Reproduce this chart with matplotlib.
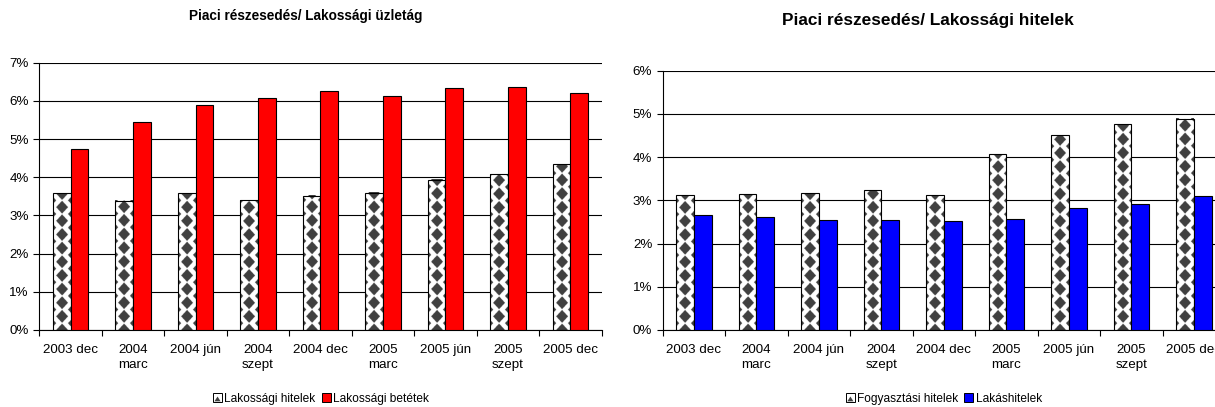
import numpy as np
import matplotlib
matplotlib.use('Agg')
from matplotlib import pyplot as plt
from matplotlib.patches import Rectangle, Polygon
from matplotlib.legend_handler import HandlerBase

plt.rcParams['font.family'] = ['Liberation Sans', 'DejaVu Sans']

months = ['2003 dec', '2004\nmarc', '2004 jún', '2004\nszept', '2004 dec',
          '2005\nmarc', '2005 jún', '2005\nszept', '2005 dec']
lak_hitelek = [3.58, 3.38, 3.58, 3.40, 3.51, 3.60, 3.94, 4.08, 4.34]
lak_betetek = [4.73, 5.44, 5.90, 6.08, 6.27, 6.13, 6.34, 6.36, 6.20]
fogy_hitelek = [3.12, 3.14, 3.17, 3.23, 3.12, 4.07, 4.51, 4.76, 4.89]
lakashitelek = [2.65, 2.61, 2.55, 2.54, 2.52, 2.56, 2.82, 2.91, 3.09]

W = 1215
H = 407
fig = plt.figure(figsize=(W / 100, H / 100), dpi=100)
fig.patch.set_facecolor('white')

BW = 0.283
DARK = '#404040'


def diamond_img(w_px, h_px):
    # white bar with dark diamond pattern (like the excel fill)
    nx = max(int(w_px * 4), 2)
    ny = max(int(h_px * 4), 2)
    u = (np.arange(nx) + 0.5) / 4 - w_px / 2
    v = (np.arange(ny) + 0.5) / 4
    U, V = np.meshgrid(u, v)
    py = 13.6
    a, b = 5.8, 6.4
    dv = (V + py / 2) % py - py / 2
    m1 = np.abs(U) / a + np.abs(dv) / b < 1
    dv2 = V % py - py / 2
    m2 = (np.abs(np.abs(U) - 11.5) / a + np.abs(dv2) / b) < 1
    m = m1 | m2
    img = np.ones((ny, nx, 3))
    img[m] = 0x40 / 255
    return img


def chart(ax, a_vals, b_vals, b_color, ymax):
    x = np.arange(len(months))
    ax.set_xlim(-0.5, len(months) - 0.5)
    ax.set_ylim(0, ymax)
    ax.set_axisbelow(True)
    ax.yaxis.grid(True, color='black', lw=0.8)
    ax.set_yticks(range(ymax + 1))
    ax.set_yticklabels(['%d%%' % t for t in range(ymax + 1)])

    pxx = ax.transData.transform((1, 0))[0] - ax.transData.transform((0, 0))[0]
    pxy = ax.transData.transform((0, 1))[1] - ax.transData.transform((0, 0))[1]
    for xi, v in zip(x, a_vals):
        img = diamond_img(BW * pxx, v * pxy)
        ax.imshow(img, extent=[xi - BW, xi, 0, v], origin='lower',
                  aspect='auto', interpolation='antialiased', zorder=2)
    ax.bar(x - BW / 2, a_vals, BW, facecolor='none', edgecolor='black',
           lw=0.8, zorder=3)
    ax.bar(x + BW / 2, b_vals, BW, color=b_color, edgecolor='black',
           lw=0.8, zorder=3)
    ax.set_xlim(-0.5, len(months) - 0.5)
    ax.set_ylim(0, ymax)

    ax.set_xticks(x)
    ax.set_xticklabels(months, linespacing=1.3)
    ax.set_xticks(np.arange(len(months) + 1) - 0.5, minor=True)
    ax.tick_params(axis='x', which='major', length=0, pad=10, labelsize=9.6)
    ax.tick_params(axis='x', which='minor', length=4, width=0.8, direction='out')
    ax.tick_params(axis='y', length=4, width=0.8, pad=3.5, labelsize=9.6)
    for s in ['top', 'right']:
        ax.spines[s].set_visible(False)
    for s in ['left', 'bottom']:
        ax.spines[s].set_linewidth(0.8)
        ax.spines[s].set_color('black')


class PatternHandler(HandlerBase):
    def create_artists(self, legend, orig_handle, xdescent, ydescent,
                       width, height, fontsize, trans):
        s = min(width, height)
        x0 = -xdescent + (width - s) / 2
        y0 = -ydescent + (height - s) / 2
        box = Rectangle((x0, y0), s, s, facecolor='white', edgecolor='black',
                        lw=0.7, transform=trans)
        tri = Polygon([(x0 + 0.15 * s, y0 + 0.1 * s), (x0 + 0.5 * s, y0 + 0.65 * s),
                       (x0 + 0.85 * s, y0 + 0.1 * s)], closed=True,
                      facecolor=DARK, edgecolor='none', transform=trans)
        return [box, tri]


ax1 = fig.add_axes([39.3 / W, (H - 330) / H, 562.4 / W, 267.3 / H])
chart(ax1, lak_hitelek, lak_betetek, '#FF0000', 7)

ax2 = fig.add_axes([662.7 / W, (H - 330) / H, 562.4 / W, 259.3 / H])
chart(ax2, fogy_hitelek, lakashitelek, '#0000FF', 6)

fig.text(306 / W, 1 - 16 / H, 'Piaci részesedés/ Lakossági üzletág',
         ha='center', va='center', fontsize=9.8, fontweight='bold')
fig.text(928 / W, 1 - 20 / H, 'Piaci részesedés/ Lakossági hitelek',
         ha='center', va='center', fontsize=12.4, fontweight='bold')

leg_kw = dict(loc='center', ncol=2, frameon=False, fontsize=8.6,
              handlelength=0.75, handleheight=0.75, handletextpad=0.2,
              columnspacing=0.5, borderaxespad=0)

pat = Rectangle((0, 0), 1, 1)
red = Rectangle((0, 0), 1, 1, facecolor='#FF0000', edgecolor='black', lw=0.7)
blue = Rectangle((0, 0), 1, 1, facecolor='#0000FF', edgecolor='black', lw=0.7)
fig.legend([pat, red], ['Lakossági hitelek', 'Lakossági betétek'],
           bbox_to_anchor=(321 / W, 1 - 399 / H),
           handler_map={pat: PatternHandler()}, **leg_kw)
pat2 = Rectangle((0, 0), 1, 1)
fig.legend([pat2, blue], ['Fogyasztási hitelek', 'Lakáshitelek'],
           bbox_to_anchor=(944 / W, 1 - 399 / H),
           handler_map={pat2: PatternHandler()}, **leg_kw)

fig.savefig('out.png', dpi=100)
